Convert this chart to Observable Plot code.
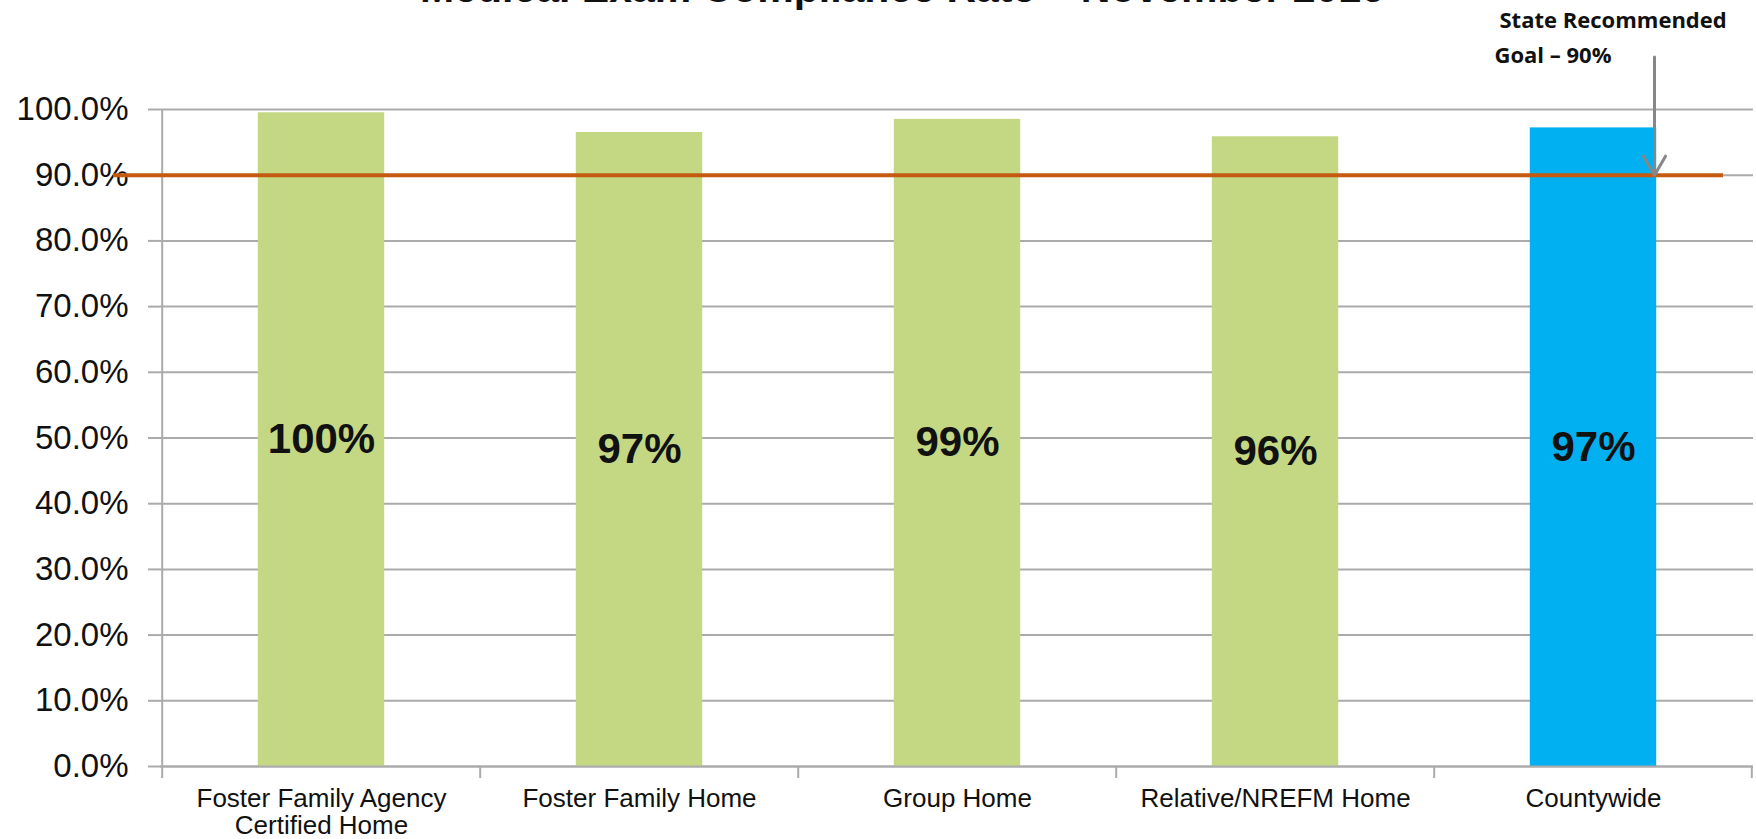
<!DOCTYPE html>
<html><head><meta charset="utf-8">
<script src="https://cdn.jsdelivr.net/npm/d3@7"></script>
<script src="https://cdn.jsdelivr.net/npm/@observablehq/plot@0.6"></script>
<style>
html,body{margin:0;padding:0;background:#fff;width:1756px;height:839px;overflow:hidden;}
#wrap{position:relative;width:1756px;height:839px;overflow:hidden;}
#title{position:absolute;left:0;top:-32px;width:1804px;text-align:center;font-family:"Liberation Sans",Arial,sans-serif;font-weight:bold;font-size:41px;line-height:41px;color:#111;white-space:nowrap;margin:0;z-index:2;}
#chart{position:absolute;left:0;top:0;}
#chart svg{display:block;}
</style></head><body>
<div id="wrap"><div id="chart"></div><div id="title">Medical Exam Compliance Rate – November 2016</div></div>
<script>
const categories = ["Foster Family Agency\nCertified Home", "Foster Family Home", "Group Home", "Relative/NREFM Home", "Countywide"];
const values = [0.995, 0.965, 0.985, 0.9585, 0.972];
const labels = ["100%", "97%", "99%", "96%", "97%"];
const barColors = ["#C4D884", "#C4D884", "#C4D884", "#C4D884", "#00B0F0"];
const goal = 0.9;
const yTicks = [0, 0.1, 0.2, 0.3, 0.4, 0.5, 0.6, 0.7, 0.8, 0.9, 1.0];
const annotationLine1 = "State Recommended";
const annotationLine2 = "Goal – 90%";
const annotationY = [1.135, 1.082];
const annotationCategory = "Countywide";
const arrowTop = 1.08;

const rows = categories.map((c, i) => ({category: c, value: values[i], label: labels[i], color: barColors[i]}));

const W = 1756, H = 839, mL = 160, mR = 3, mT = 109, mB = 73;
const step = (W - mL - mR) / categories.length;
const barW = 127;
const inset = (step - barW) / 2;
const grid = "#ababab";
const font = '"Liberation Sans", Arial, Helvetica, sans-serif';
const annFont = '"Open Sans", sans-serif';

const chart = Plot.plot({
  width: W, height: H,
  marginLeft: mL, marginRight: mR, marginTop: mT, marginBottom: mB,
  style: {fontFamily: font, background: "white", overflow: "visible"},
  x: {domain: categories, padding: 0},
  y: {domain: [0, 1]},
  color: {type: "identity"},
  marks: [
    Plot.gridY(yTicks, {stroke: grid, strokeOpacity: 1, strokeWidth: 2}),
    Plot.axisY(yTicks, {tickFormat: d3.format(".1%"), tickSize: 12, tickPadding: 20, fontSize: 33, stroke: grid, strokeWidth: 2, strokeOpacity: 1, fill: "#111", label: null}),
    Plot.axisX({tickSize: 0, tickPadding: 21, fontSize: 26, fill: "#111", label: null, lineHeight: 1.05}),
    Plot.barY(rows, {x: "category", y: "value", fill: "color", insetLeft: inset, insetRight: inset}),
    Plot.ruleY([0], {stroke: grid, strokeWidth: 2}),
    Plot.ruleX([categories[0]], {x: d => d, dx: -step / 2, stroke: grid, strokeWidth: 2, insetBottom: -12}),
    Plot.ruleX(categories.slice(1), {x: d => d, dx: -step / 2, y1: 0, y2: 0, insetTop: 12, stroke: grid, strokeWidth: 2}),
    Plot.ruleX([categories[categories.length - 1]], {x: d => d, dx: step / 2 - 1, y1: 0, y2: 0, insetTop: 12, stroke: grid, strokeWidth: 2}),
    Plot.ruleY([goal], {stroke: "#C55A11", strokeWidth: 4, insetLeft: -47, insetRight: 30}),
    Plot.text(rows, {x: "category", y: d => d.value / 2, text: "label", fontSize: 42, fontWeight: "bold", fill: "#111"}),
    Plot.arrow([{cat: annotationCategory, from: arrowTop, to: goal}], {x1: "cat", x2: "cat", y1: "from", y2: "to", dx: 61, stroke: "#878787", strokeWidth: 3, headLength: 11, headAngle: 60}),
    Plot.text([annotationLine1], {x: () => annotationCategory, y: () => annotationY[0], text: d => d, dx: -94, textAnchor: "start", fontFamily: annFont, fontWeight: "bold", fontSize: 22, fill: "#111"}),
    Plot.text([annotationLine2], {x: () => annotationCategory, y: () => annotationY[1], text: d => d, dx: -99, textAnchor: "start", fontFamily: annFont, fontWeight: "bold", fontSize: 22, fill: "#111"})
  ]
});
document.getElementById("chart").appendChild(chart);
</script>
</body></html>
